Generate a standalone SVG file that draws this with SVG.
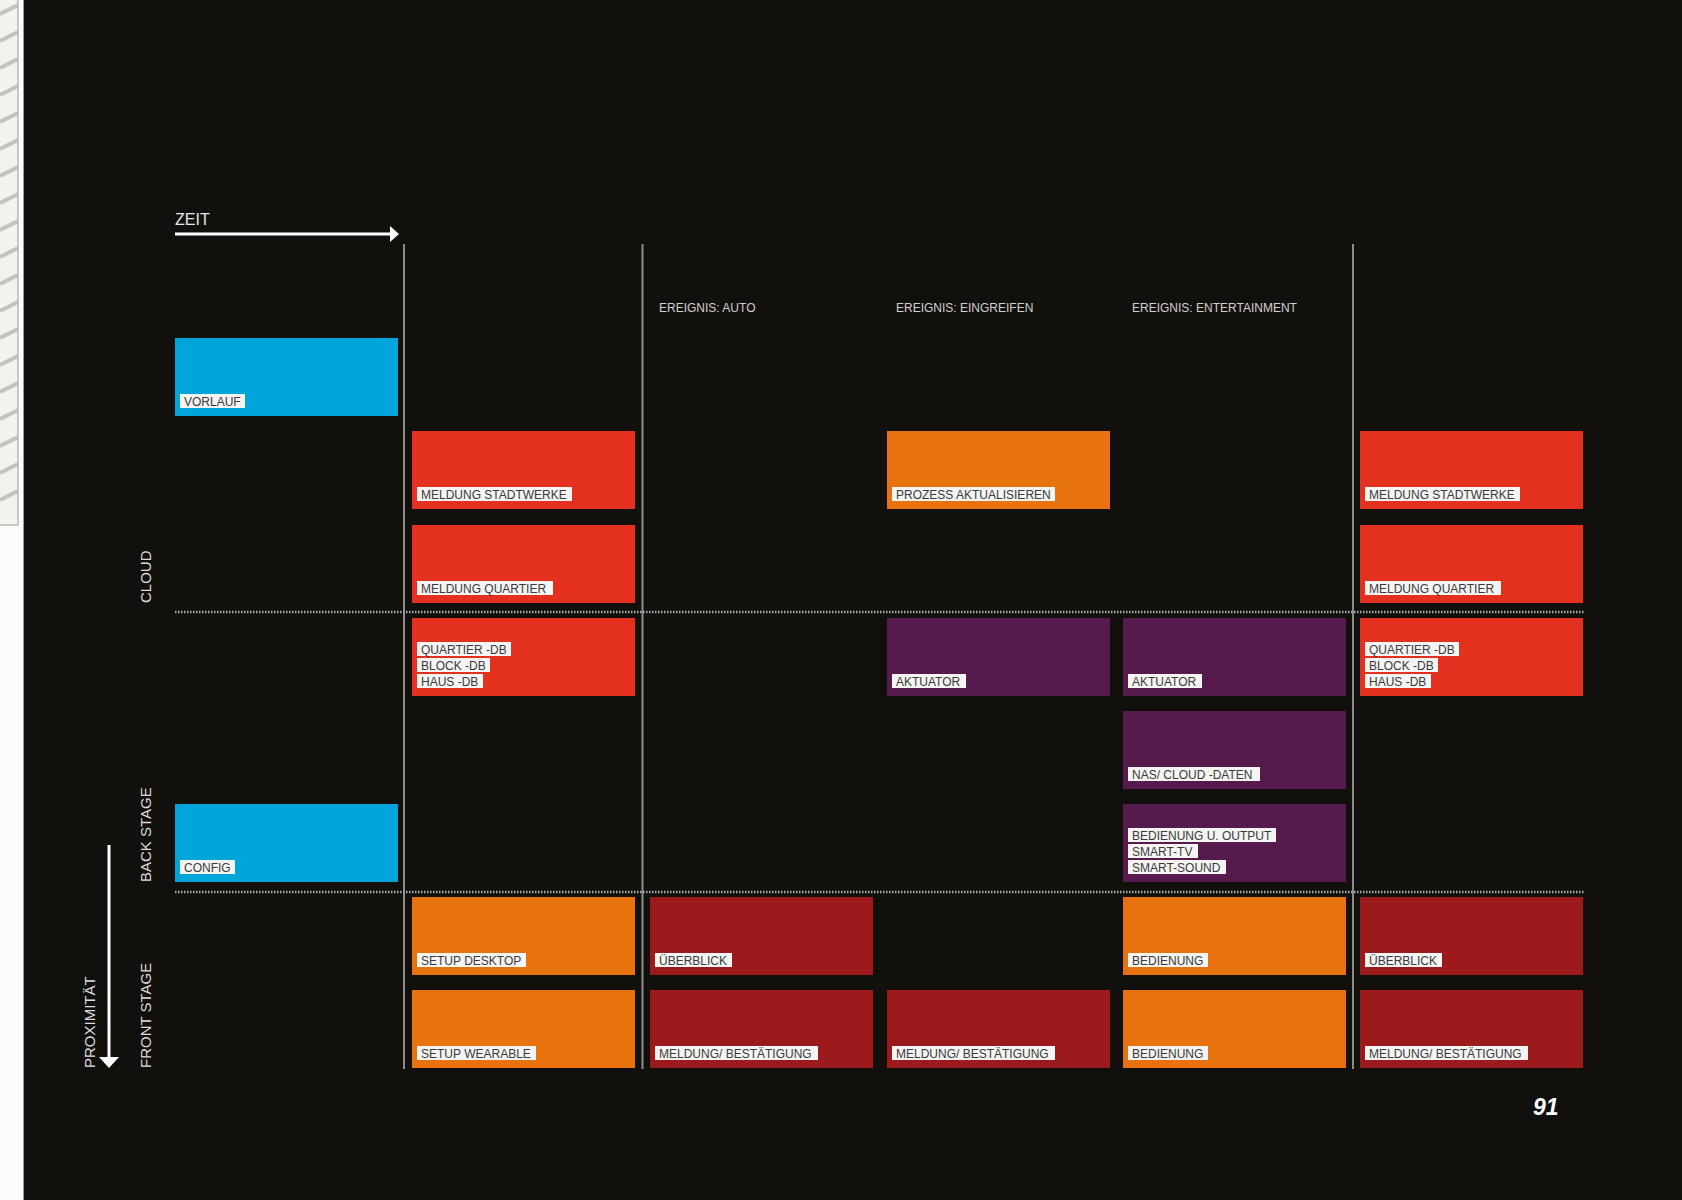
<svg xmlns="http://www.w3.org/2000/svg" width="1682" height="1200" viewBox="0 0 1682 1200">
<style>
.bg{fill:#12100d}
.box{stroke:none}
.blue{fill:#00a6da}
.red{fill:#e3301f}
.orange{fill:#e8730e}
.purple{fill:#561b4c}
.dred{fill:#9c1a1c}
.lbl{fill:#f4f4f2}
.lt{font-family:"Liberation Sans",Arial,sans-serif;font-size:12px;fill:#3a3a3a}
.hd{font-family:"Liberation Sans",Arial,sans-serif;font-size:12px;fill:#cfcfcf}
.side{font-family:"Liberation Sans",Arial,sans-serif;font-size:15px;fill:#dcdcdc}
.vline{stroke:#8c8c8c;stroke-width:2;fill:none}
.dots{stroke:#a8a8a8;stroke-width:2.5;stroke-dasharray:1.5 1.5;fill:none}
.stripe{stroke:#c2c2be;stroke-width:4;fill:none}
</style>
<defs>
<clipPath id="stripClip"><rect x="0" y="0" width="18" height="525"/></clipPath>
</defs>

<!-- page edge -->
<rect x="0" y="0" width="24" height="1200" fill="#fbfbf9"/>
<g clip-path="url(#stripClip)">
<rect x="0" y="0" width="18" height="525" fill="#f2f2ef"/>
<path class="stripe" d="M0 14 L18 5 M0 41 L18 32 M0 68 L18 59 M0 95 L18 86 M0 122 L18 113 M0 149 L18 140 M0 176 L18 167 M0 203 L18 194 M0 230 L18 221 M0 257 L18 248 M0 284 L18 275 M0 311 L18 302 M0 338 L18 329 M0 365 L18 356 M0 392 L18 383 M0 419 L18 410 M0 446 L18 437 M0 473 L18 464 M0 500 L18 491"/>
</g>
<path d="M18 0 V525 H0" stroke="#b8b8b4" stroke-width="1.5" fill="none"/>
<line x1="23.5" y1="0" x2="23.5" y2="1200" stroke="#9a9a9a" stroke-width="1"/>
<rect class="bg" x="24" y="0" width="1658" height="1200"/>

<!-- axes -->
<g id="axis-zeit">
<text x="175" y="225" font-family="Liberation Sans, Arial, sans-serif" font-size="16" fill="#e6e6e6">ZEIT</text>
<line x1="175" y1="234" x2="393" y2="234" stroke="#ffffff" stroke-width="3"/>
<polygon points="390,226 399,234 390,242" fill="#ffffff"/>
</g>
<g id="axis-proximitaet">
<text class="side" transform="translate(95,1068) rotate(-90)">PROXIMITÄT</text>
<line x1="109" y1="845" x2="109" y2="1060" stroke="#ffffff" stroke-width="3"/>
<polygon points="99,1057 119,1057 109,1068" fill="#ffffff"/>
</g>
<g id="side-labels">
<text class="side" transform="translate(151,603) rotate(-90)">CLOUD</text>
<text class="side" transform="translate(151,882) rotate(-90)">BACK STAGE</text>
<text class="side" transform="translate(151,1068) rotate(-90)">FRONT STAGE</text>
</g>

<!-- grid lines -->
<g id="connectors">
<line class="vline" x1="404" y1="244" x2="404" y2="1069"/>
<line class="vline" x1="642.5" y1="244" x2="642.5" y2="1069"/>
<line class="vline" x1="1353" y1="244" x2="1353" y2="1069"/>
<line class="dots" x1="175" y1="612" x2="1585" y2="612"/>
<line class="dots" x1="175" y1="892" x2="1585" y2="892"/>
</g>

<!-- headers -->
<g id="headers">
<text class="hd" x="659" y="312">EREIGNIS: AUTO</text>
<text class="hd" x="896" y="312">EREIGNIS: EINGREIFEN</text>
<text class="hd" x="1132" y="312">EREIGNIS: ENTERTAINMENT</text>
</g>

<!-- column 0 -->
<g id="vorlauf"><rect class="box blue" x="175" y="338" width="223" height="78"/><rect class="lbl" x="180" y="394" width="65" height="14"/><text class="lt" x="184" y="406">VORLAUF</text></g>
<g id="config"><rect class="box blue" x="175" y="804" width="223" height="78"/><rect class="lbl" x="180" y="860" width="55" height="14"/><text class="lt" x="184" y="872">CONFIG</text></g>

<!-- column 1 -->
<g id="c1-stadtwerke"><rect class="box red" x="412" y="431" width="223" height="78"/><rect class="lbl" x="417" y="487" width="155" height="14"/><text class="lt" x="421" y="499">MELDUNG STADTWERKE</text></g>
<g id="c1-quartier"><rect class="box red" x="412" y="525" width="223" height="78"/><rect class="lbl" x="417" y="581" width="136" height="14"/><text class="lt" x="421" y="593">MELDUNG QUARTIER</text></g>
<g id="c1-db"><rect class="box red" x="412" y="618" width="223" height="78"/>
<rect class="lbl" x="417" y="642" width="94" height="14"/><text class="lt" x="421" y="654">QUARTIER -DB</text>
<rect class="lbl" x="417" y="658" width="73" height="14"/><text class="lt" x="421" y="670">BLOCK -DB</text>
<rect class="lbl" x="417" y="674" width="66" height="14"/><text class="lt" x="421" y="686">HAUS -DB</text></g>
<g id="c1-setup-desktop"><rect class="box orange" x="412" y="897" width="223" height="78"/><rect class="lbl" x="417" y="953" width="109" height="14"/><text class="lt" x="421" y="965">SETUP DESKTOP</text></g>
<g id="c1-setup-wearable"><rect class="box orange" x="412" y="990" width="223" height="78"/><rect class="lbl" x="417" y="1046" width="119" height="14"/><text class="lt" x="421" y="1058">SETUP WEARABLE</text></g>

<!-- column 2 -->
<g id="c2-ueberblick"><rect class="box dred" x="650" y="897" width="223" height="78"/><rect class="lbl" x="655" y="953" width="77" height="14"/><text class="lt" x="659" y="965">ÜBERBLICK</text></g>
<g id="c2-meldung"><rect class="box dred" x="650" y="990" width="223" height="78"/><rect class="lbl" x="655" y="1046" width="163" height="14"/><text class="lt" x="659" y="1058">MELDUNG/ BESTÄTIGUNG</text></g>

<!-- column 3 -->
<g id="c3-prozess"><rect class="box orange" x="887" y="431" width="223" height="78"/><rect class="lbl" x="892" y="487" width="163" height="14"/><text class="lt" x="896" y="499">PROZESS AKTUALISIEREN</text></g>
<g id="c3-aktuator"><rect class="box purple" x="887" y="618" width="223" height="78"/><rect class="lbl" x="892" y="674" width="74" height="14"/><text class="lt" x="896" y="686">AKTUATOR</text></g>
<g id="c3-meldung"><rect class="box dred" x="887" y="990" width="223" height="78"/><rect class="lbl" x="892" y="1046" width="163" height="14"/><text class="lt" x="896" y="1058">MELDUNG/ BESTÄTIGUNG</text></g>

<!-- column 4 -->
<g id="c4-aktuator"><rect class="box purple" x="1123" y="618" width="223" height="78"/><rect class="lbl" x="1128" y="674" width="74" height="14"/><text class="lt" x="1132" y="686">AKTUATOR</text></g>
<g id="c4-nas"><rect class="box purple" x="1123" y="711" width="223" height="78"/><rect class="lbl" x="1128" y="767" width="132" height="14"/><text class="lt" x="1132" y="779">NAS/ CLOUD -DATEN</text></g>
<g id="c4-output"><rect class="box purple" x="1123" y="804" width="223" height="78"/>
<rect class="lbl" x="1128" y="828" width="148" height="14"/><text class="lt" x="1132" y="840">BEDIENUNG U. OUTPUT</text>
<rect class="lbl" x="1128" y="844" width="70" height="14"/><text class="lt" x="1132" y="856">SMART-TV</text>
<rect class="lbl" x="1128" y="860" width="98" height="14"/><text class="lt" x="1132" y="872">SMART-SOUND</text></g>
<g id="c4-bedienung-1"><rect class="box orange" x="1123" y="897" width="223" height="78"/><rect class="lbl" x="1128" y="953" width="80" height="14"/><text class="lt" x="1132" y="965">BEDIENUNG</text></g>
<g id="c4-bedienung-2"><rect class="box orange" x="1123" y="990" width="223" height="78"/><rect class="lbl" x="1128" y="1046" width="80" height="14"/><text class="lt" x="1132" y="1058">BEDIENUNG</text></g>

<!-- column 5 -->
<g id="c5-stadtwerke"><rect class="box red" x="1360" y="431" width="223" height="78"/><rect class="lbl" x="1365" y="487" width="155" height="14"/><text class="lt" x="1369" y="499">MELDUNG STADTWERKE</text></g>
<g id="c5-quartier"><rect class="box red" x="1360" y="525" width="223" height="78"/><rect class="lbl" x="1365" y="581" width="136" height="14"/><text class="lt" x="1369" y="593">MELDUNG QUARTIER</text></g>
<g id="c5-db"><rect class="box red" x="1360" y="618" width="223" height="78"/>
<rect class="lbl" x="1365" y="642" width="94" height="14"/><text class="lt" x="1369" y="654">QUARTIER -DB</text>
<rect class="lbl" x="1365" y="658" width="73" height="14"/><text class="lt" x="1369" y="670">BLOCK -DB</text>
<rect class="lbl" x="1365" y="674" width="66" height="14"/><text class="lt" x="1369" y="686">HAUS -DB</text></g>
<g id="c5-ueberblick"><rect class="box dred" x="1360" y="897" width="223" height="78"/><rect class="lbl" x="1365" y="953" width="77" height="14"/><text class="lt" x="1369" y="965">ÜBERBLICK</text></g>
<g id="c5-meldung"><rect class="box dred" x="1360" y="990" width="223" height="78"/><rect class="lbl" x="1365" y="1046" width="163" height="14"/><text class="lt" x="1369" y="1058">MELDUNG/ BESTÄTIGUNG</text></g>

<text x="1533" y="1115" font-family="Liberation Sans, Arial, sans-serif" font-size="23" font-weight="bold" font-style="italic" fill="#ffffff">91</text>
</svg>
